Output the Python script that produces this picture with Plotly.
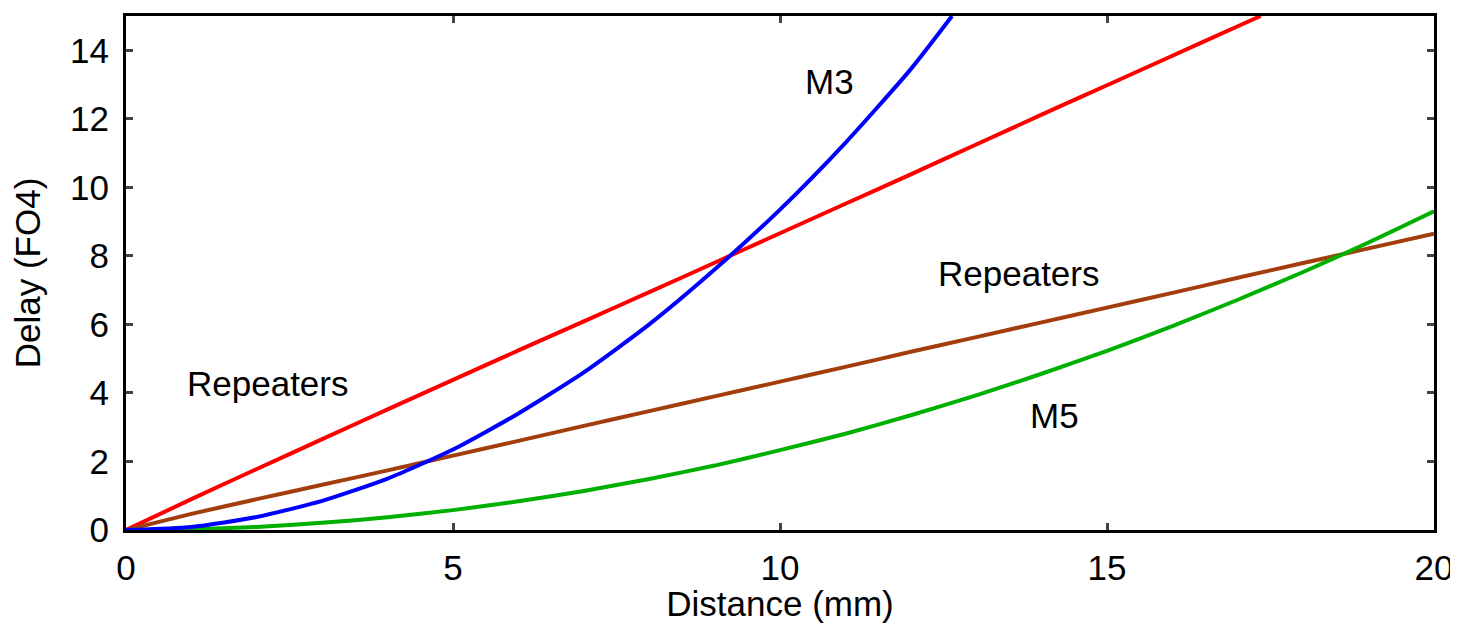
import plotly.graph_objects as go

x_int = list(range(0, 21))

# Blue: M3 unrepeated
m3_x = [0, 1, 2, 3, 4, 5, 6, 7, 8, 9, 10, 11, 12, 12.63]
m3_y = [0, 0.09, 0.38, 0.85, 1.5, 2.35, 3.4, 4.6, 6.0, 7.6, 9.35, 11.3, 13.45, 15.0]

# Red: repeaters on M3
rep3_x = [0, 1, 2, 3, 4, 5, 6, 7, 8, 9, 10, 11, 12, 13, 14, 15, 16, 17, 17.35]
rep3_y = [0, 0.9, 1.78, 2.65, 3.52, 4.38, 5.24, 6.09, 6.94, 7.8, 8.66, 9.52, 10.38, 11.25,
          12.12, 12.98, 13.84, 14.7, 15.0]

# Brown: repeaters on M5
rep5_x = x_int
rep5_y = [0, 0.47, 0.9, 1.32, 1.74, 2.17, 2.6, 3.04, 3.47, 3.9, 4.33, 4.76, 5.2, 5.63,
          6.06, 6.49, 6.92, 7.36, 7.79, 8.22, 8.65]

# Green: M5 unrepeated
m5_x = x_int
m5_y = [0, 0.02, 0.09, 0.21, 0.37, 0.58, 0.84, 1.14, 1.49, 1.88, 2.33, 2.81, 3.35, 3.93,
        4.56, 5.23, 5.95, 6.72, 7.53, 8.39, 9.3]

x_ticks = [0, 5, 10, 15, 20]
y_ticks = [0, 2, 4, 6, 8, 10, 12, 14]

labels = [
    ("M3", 10.76, 13.1),
    ("Repeaters", 2.17, 4.27),
    ("Repeaters", 13.64, 7.5),
    ("M5", 14.2, 3.35),
]

FAM = "Liberation Sans, Arial, sans-serif"
font = dict(family=FAM, size=35, color="black")

fig = go.Figure()
lw = 4
for xs, ys, col in [(rep3_x, rep3_y, "#ff0000"), (rep5_x, rep5_y, "#a33e0c"),
                    (m5_x, m5_y, "#00b000"), (m3_x, m3_y, "#0000ff")]:
    fig.add_trace(go.Scatter(x=xs, y=ys, mode="lines",
                             line=dict(color=col, width=lw, shape="spline", smoothing=0.6)))

for text, ax, ay in labels:
    fig.add_annotation(x=ax, y=ay, text=text, showarrow=False, font=font)

fig.update_layout(
    width=1450, height=615,
    margin=dict(l=118, r=24, t=5, b=93),
    paper_bgcolor="white", plot_bgcolor="white",
    showlegend=False,
    font=font,
)
fig.update_xaxes(range=[0, 20], tickvals=x_ticks, ticks="inside", ticklen=7, tickwidth=3,
                 showline=True, linewidth=3, linecolor="black", mirror="ticks",
                 showgrid=False, zeroline=False, tickfont=font, ticklabeloverflow="allow",
                 ticklabelstandoff=5,
                 title=dict(text="Distance (mm)", font=font, standoff=4))
fig.update_yaxes(range=[0, 15], tickvals=y_ticks, ticks="inside", ticklen=7, tickwidth=3,
                 showline=True, linewidth=3, linecolor="black", mirror="ticks",
                 showgrid=False, zeroline=False, tickfont=font,
                 ticklabelstandoff=7,
                 title=dict(text="Delay (FO4)", font=font, standoff=19))

fig.write_html("out.html")
